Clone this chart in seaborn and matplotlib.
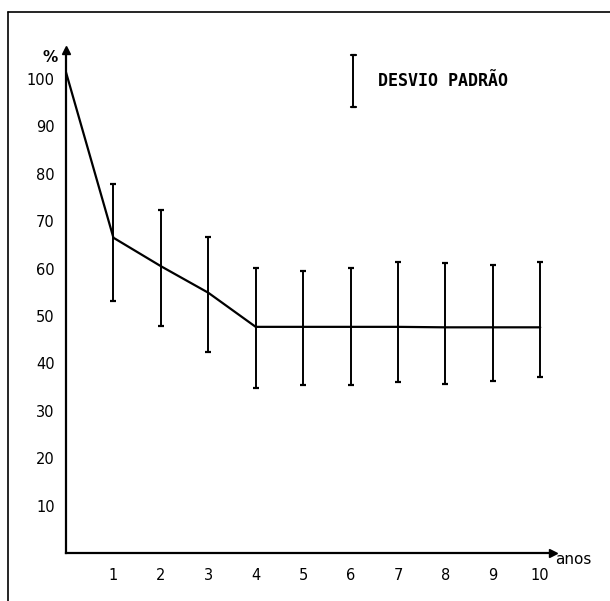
import matplotlib
matplotlib.use("Agg")
import matplotlib.pyplot as plt
import seaborn as sns
import pandas as pd
from matplotlib.lines import Line2D

# ---- data ----
anos = [0, 1, 2, 3, 4, 5, 6, 7, 8, 9, 10]
media = [101.4, 66.5, 60.5, 54.9, 47.7, 47.7, 47.7, 47.7, 47.6, 47.6, 47.6]
anos_dp = [1, 2, 3, 4, 5, 6, 7, 8, 9, 10]
media_dp = [66.5, 60.5, 54.9, 47.7, 47.7, 47.7, 47.7, 47.6, 47.6, 47.6]
limite_sup = [77.8, 72.3, 66.7, 60.1, 59.4, 60.2, 61.3, 61.1, 60.8, 61.4]
limite_inf = [53.1, 47.8, 42.3, 34.8, 35.5, 35.5, 36.0, 35.6, 36.3, 37.1]
y_ticks = [10, 20, 30, 40, 50, 60, 70, 80, 90, 100]
x_ticks = [1, 2, 3, 4, 5, 6, 7, 8, 9, 10]
rotulo_y = "%"
rotulo_x = "anos"
legenda = "DESVIO PADRÃO"

sns.set_theme(style="white")
plt.rcParams["font.family"] = ["DejaVu Sans"]
plt.rcParams["text.color"] = "black"

fig = plt.figure(figsize=(6.10, 6.01), dpi=100)
ax = fig.add_axes([0.1082, 0.0799, 0.7984, 0.8369])

df = pd.DataFrame({"anos": anos, "media": media})
sns.lineplot(data=df, x="anos", y="media", ax=ax, color="black", linewidth=1.6)

err_low = [m - lo for m, lo in zip(media_dp, limite_inf)]
err_high = [hi - m for m, hi in zip(media_dp, limite_sup)]
ax.errorbar(anos_dp, media_dp, yerr=[err_low, err_high], fmt="none",
            ecolor="black", elinewidth=1.4, capsize=2, capthick=1.6)

ax.set_xlim(0, 10.27)
ax.set_ylim(0, 106.1)
ax.set_xticks(x_ticks)
ax.set_xticklabels([str(t) for t in x_ticks])
ax.set_yticks(y_ticks)
ax.set_yticklabels([str(t) for t in y_ticks])
ax.set_xlabel("")
ax.set_ylabel("")

for s in ["top", "right"]:
    ax.spines[s].set_visible(False)
for s in ["left", "bottom"]:
    ax.spines[s].set_linewidth(1.6)
    ax.spines[s].set_color("black")

ax.tick_params(axis="both", direction="out", length=4, width=1.2,
               colors="black", labelsize=10.5)
ax.tick_params(axis="y", pad=4)
ax.tick_params(axis="x", pad=7)

# axis arrowheads
ax.plot(1, 0, ">", color="black", ms=6, transform=ax.transAxes, clip_on=False)
ax.plot(0, 1, "^", color="black", ms=6, transform=ax.transAxes, clip_on=False)

# axis labels
fig.text(50 / 610, 1 - 58 / 601, rotulo_y, ha="center", va="center",
         fontsize=11, fontweight="bold", color="black")
fig.text(555 / 610, 1 - 560 / 601, rotulo_x, ha="left", va="center",
         fontsize=11, color="black")

# legend glyph (vertical standard-deviation bar)
lx = 353 / 610
ly0, ly1 = 1 - 107 / 601, 1 - 54.5 / 601
cw = 2.5 / 610
fig.add_artist(Line2D([lx, lx], [ly0, ly1], color="black", lw=1.4))
fig.add_artist(Line2D([lx - cw, lx + cw], [ly0, ly0], color="black", lw=1.6))
fig.add_artist(Line2D([lx - cw, lx + cw], [ly1, ly1], color="black", lw=1.6))
fig.text(378 / 610, 1 - 81 / 601, legenda, ha="left", va="center",
         fontsize=12, fontweight="bold", family=["DejaVu Sans Mono"], color="black")

# scanned frame (top and left edges)
fig.add_artist(Line2D([8 / 610, 1.0], [1 - 12 / 601, 1 - 12 / 601], color="black", lw=1.2))
fig.add_artist(Line2D([8 / 610, 8 / 610], [0.0, 1 - 12 / 601], color="black", lw=1.2))

fig.savefig("out.png", dpi=100)
